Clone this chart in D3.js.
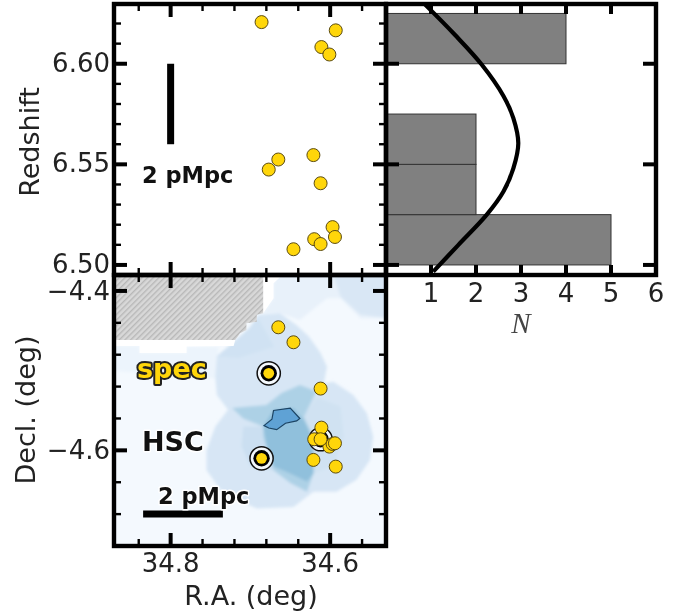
<!DOCTYPE html>
<html>
<head>
<meta charset="utf-8">
<script src="https://d3js.org/d3.v7.min.js"></script>
<style>
  html, body { margin: 0; padding: 0; background: #fff; }
  svg { display: block; filter: blur(0.45px); }
  text { font-family: "DejaVu Sans", sans-serif; fill: #222; }
</style>
</head>
<body>
<div id="chart"></div>
<script>
// galaxies (same order in all three lists)
const galaxyRa = [34.686, 34.593, 34.611, 34.601, 34.621, 34.665, 34.677, 34.612, 34.597, 34.594, 34.620, 34.612, 34.646]
const galaxyZ = [6.6207, 6.6166, 6.6083, 6.6046, 6.5546, 6.5524, 6.5474, 6.5406, 6.5188, 6.5139, 6.5128, 6.5104, 6.5078]
const galaxyDec = [-4.610, -4.6204, -4.5715, -4.5953, -4.612, -4.4456, -4.5033, -4.5225, -4.592, -4.5911, -4.5861, -4.5861, -4.4644]
const specIndex = [0, 6, 11]

// redshift histogram
const binStart = [6.50, 6.525, 6.55, 6.60]
const binEnd = [6.525, 6.55, 6.575, 6.625]
const binCount = [5, 2, 2, 4]

// smooth curve over the histogram
const curveZ = [6.4967, 6.51, 6.525, 6.5365, 6.548, 6.5605, 6.573, 6.584, 6.5995, 6.6144, 6.6294]
const curveN = [1.05, 1.61, 2.24, 2.61, 2.83, 2.94, 2.83, 2.61, 2.13, 1.53, 0.87]

// ticks
const raMajor = [34.8, 34.6]
const raMinor = [34.84, 34.76, 34.72, 34.68, 34.64, 34.56]
const decMajor = [-4.4, -4.6]
const decMinor = [-4.44, -4.48, -4.52, -4.56, -4.64, -4.68]
const zMajor = [6.5, 6.55, 6.6]
const zMinor = [6.51, 6.52, 6.53, 6.54, 6.56, 6.57, 6.58, 6.59, 6.61, 6.62]
const nTicks = [1, 2, 3, 4, 5]
const nLabels = [1, 2, 3, 4, 5, 6]

// density map, darkest last, [ra, dec]
const lightTop = [[34.665,-4.38],[34.525,-4.38],[34.525,-4.4343],[34.562,-4.4343],[34.587,-4.4092],[34.604,-4.4092],[34.638,-4.4364],[34.663,-4.428],[34.684,-4.428],[34.671,-4.4092],[34.671,-4.3904]]
const lightLeft = [[34.875,-4.469],[34.839,-4.469],[34.839,-4.478],[34.78,-4.478],[34.78,-4.4698],[34.74,-4.47],[34.742,-4.51],[34.80,-4.505],[34.875,-4.5]]
const cornerTop = [[34.596,-4.38],[34.587,-4.4071],[34.562,-4.430],[34.525,-4.4343],[34.525,-4.38]]
const mainBlob = [[34.742,-4.482],[34.721,-4.464],[34.702,-4.447],[34.69,-4.430],[34.663,-4.428],[34.642,-4.443],[34.627,-4.457],[34.612,-4.478],[34.604,-4.495],[34.608,-4.516],[34.596,-4.514],[34.571,-4.5305],[34.554,-4.5535],[34.546,-4.583],[34.55,-4.612],[34.567,-4.637],[34.592,-4.652],[34.621,-4.652],[34.646,-4.671],[34.692,-4.673],[34.734,-4.654],[34.755,-4.625],[34.755,-4.6],[34.744,-4.570],[34.728,-4.549],[34.742,-4.5305],[34.744,-4.5075]]
const subUpper = [[34.742,-4.482],[34.721,-4.464],[34.702,-4.447],[34.69,-4.434],[34.67,-4.47],[34.715,-4.484]]
const subLower = [[34.709,-4.570],[34.684,-4.570],[34.671,-4.625],[34.70,-4.62],[34.711,-4.595]]
const subRight = [[34.633,-4.558],[34.617,-4.533],[34.587,-4.545],[34.583,-4.583],[34.596,-4.62],[34.621,-4.629]]
const midBlob = [[34.723,-4.547],[34.68,-4.543],[34.661,-4.528],[34.638,-4.518],[34.617,-4.526],[34.633,-4.558],[34.621,-4.583],[34.621,-4.629],[34.629,-4.652],[34.65,-4.641],[34.671,-4.625],[34.684,-4.583],[34.684,-4.570],[34.709,-4.56]]
const innerBlob = [[34.684,-4.570],[34.671,-4.549],[34.646,-4.547],[34.633,-4.562],[34.621,-4.587],[34.621,-4.629],[34.629,-4.639],[34.65,-4.629],[34.671,-4.62],[34.68,-4.591]]
const peakBlob = [[34.683,-4.569],[34.673,-4.561],[34.671,-4.55],[34.65,-4.547],[34.638,-4.56],[34.642,-4.563],[34.656,-4.566],[34.667,-4.574],[34.677,-4.572]]

// masked part of the field
const maskLeft = [[34.875,-4.4615],[34.719,-4.4615],[34.721,-4.469],[34.78,-4.4698],[34.78,-4.478],[34.839,-4.478],[34.839,-4.469],[34.875,-4.469]]
const maskTop = [[34.684,-4.38],[34.66,-4.38],[34.671,-4.3904],[34.671,-4.4092],[34.684,-4.428]]
const hatchArea = [[34.875,-4.38],[34.684,-4.38],[34.684,-4.428],[34.692,-4.430],[34.692,-4.4385],[34.705,-4.4406],[34.705,-4.449],[34.713,-4.453],[34.719,-4.4615],[34.875,-4.4615]]

const chartWidth = 689, chartHeight = 613
const edgeLeft = 114, edgeMid = 386, edgeRight = 656, edgeTop = 4, edgeJoin = 275, edgeBottom = 546

const x = d3.scaleLinear().domain([34.871, 34.530]).range([edgeLeft, edgeMid])
const yZ = d3.scaleLinear().domain([6.4950, 6.6297]).range([edgeJoin, edgeTop])
const yDec = d3.scaleLinear().domain([-4.72, -4.38]).range([edgeBottom, edgeJoin])
const xN = d3.scaleLinear().domain([0, 6]).range([edgeMid, edgeRight])

const svg = d3.select('#chart').append('svg')
  .attr('width', chartWidth)
  .attr('height', chartHeight)

const defs = svg.append('defs')
function addClip(id, x0, y0, x1, y1) {
  defs.append('clipPath').attr('id', id).append('rect')
    .attr('x', x0).attr('y', y0).attr('width', x1 - x0).attr('height', y1 - y0)
}
addClip('clip-map', edgeLeft, edgeJoin, edgeMid, edgeBottom)
addClip('clip-hist', edgeMid, edgeTop, edgeRight, edgeJoin)

const hatch = defs.append('pattern')
  .attr('id', 'hatch')
  .attr('patternUnits', 'userSpaceOnUse')
  .attr('width', 4).attr('height', 4)
  .attr('patternTransform', 'rotate(-45)')
hatch.append('rect').attr('width', 4).attr('height', 4).attr('fill', '#d8d8d8')
hatch.append('rect').attr('width', 4).attr('height', 1.4).attr('fill', '#b8b8b8')

defs.append('filter').attr('id', 'soft').append('feGaussianBlur').attr('stdDeviation', 1.6)

// density map
const map = svg.append('g').attr('clip-path', 'url(#clip-map)')
map.append('rect').attr('x', edgeLeft).attr('y', edgeJoin).attr('width', edgeMid - edgeLeft).attr('height', edgeBottom - edgeJoin).attr('fill', '#f4f9fe')

const outline = d3.line().x(d => x(d[0])).y(d => yDec(d[1]))
const contours = map.append('g').attr('filter', 'url(#soft)')
const layers = [
  [lightTop, '#e8f1fa'], [lightLeft, '#ecf4fc'], [cornerTop, '#d9e7f5'], [mainBlob, '#d7e6f5'],
  [subUpper, '#d0e2f3'], [subLower, '#cbdff1'], [subRight, '#d0e2f2'],
  [midBlob, '#add1e6'], [innerBlob, '#90c0dc']
]
contours.selectAll('path').data(layers).enter().append('path')
  .attr('d', d => outline(d[0]) + 'Z')
  .attr('fill', d => d[1])

map.append('path').attr('d', outline(maskLeft) + 'Z').attr('fill', '#fff')
map.append('path').attr('d', outline(maskTop) + 'Z').attr('fill', '#fff')
map.append('path').attr('d', outline(hatchArea) + 'Z').attr('fill', 'url(#hatch)')
map.append('path').attr('d', outline(peakBlob) + 'Z')
  .attr('fill', '#5fa2d5').attr('stroke', '#1c4464').attr('stroke-width', 1.2)

// histogram
const hist = svg.append('g').attr('clip-path', 'url(#clip-hist)')
hist.selectAll('rect').data(binCount).enter().append('rect')
  .attr('x', xN(0))
  .attr('y', (d, i) => yZ(binEnd[i]))
  .attr('width', d => xN(d) - xN(0))
  .attr('height', (d, i) => yZ(binStart[i]) - yZ(binEnd[i]))
  .attr('fill', '#808080')
  .attr('stroke', '#333')
  .attr('stroke-width', 1)

const curvePts = curveZ.map((z, i) => [curveN[i], z])
hist.append('path')
  .attr('d', d3.line().x(d => xN(d[0])).y(d => yZ(d[1])).curve(d3.curveCatmullRom)(curvePts))
  .attr('fill', 'none')
  .attr('stroke', '#000')
  .attr('stroke-width', 4.2)

// inward ticks, one call per side
function ticks(axisFn, scale, values, len, lw, tx, ty) {
  const axis = axisFn(scale).tickValues(values).tickSize(-len).tickFormat('').offset(0)
  const g = svg.append('g').attr('transform', 'translate(' + tx + ',' + ty + ')').call(axis)
  g.select('.domain').remove()
  g.selectAll('line').attr('stroke', '#000').attr('stroke-width', lw)
}

const majorLen = 13, minorLen = 7, majorW = 4, minorW = 2.4

;[[yZ, zMajor, zMinor], [yDec, decMajor, decMinor]].forEach(p => {
  ticks(d3.axisLeft, p[0], p[1], majorLen, majorW, edgeLeft, 0)
  ticks(d3.axisLeft, p[0], p[2], minorLen, minorW, edgeLeft, 0)
  ticks(d3.axisRight, p[0], p[1], majorLen, majorW, edgeMid, 0)
  ticks(d3.axisRight, p[0], p[2], minorLen, minorW, edgeMid, 0)
})
;[[edgeTop, d3.axisTop], [edgeJoin, d3.axisBottom], [edgeJoin, d3.axisTop], [edgeBottom, d3.axisBottom]].forEach(p => {
  ticks(p[1], x, raMajor, majorLen, majorW, 0, p[0])
  ticks(p[1], x, raMinor, minorLen, minorW, 0, p[0])
})
ticks(d3.axisTop, xN, nTicks, 10, majorW, 0, edgeTop)
ticks(d3.axisBottom, xN, nTicks, 10, majorW, 0, edgeJoin)
ticks(d3.axisLeft, yZ, zMajor, majorLen, majorW, edgeMid, 0)
ticks(d3.axisRight, yZ, zMajor, majorLen, majorW, edgeRight, 0)

// frames
const frames = [[edgeLeft, edgeTop, edgeMid, edgeJoin], [edgeLeft, edgeJoin, edgeMid, edgeBottom], [edgeMid, edgeTop, edgeRight, edgeJoin]]
svg.selectAll('rect.frame').data(frames).enter().append('rect')
  .attr('class', 'frame')
  .attr('x', d => d[0]).attr('y', d => d[1])
  .attr('width', d => d[2] - d[0]).attr('height', d => d[3] - d[1])
  .attr('fill', 'none')
  .attr('stroke', '#000')
  .attr('stroke-width', 4.4)

// scale bars
svg.append('line')
  .attr('x1', x(34.8)).attr('x2', x(34.8))
  .attr('y1', yZ(6.6)).attr('y2', yZ(6.56))
  .attr('stroke', '#000').attr('stroke-width', 7)
svg.append('line')
  .attr('x1', x(34.8345)).attr('x2', x(34.7345))
  .attr('y1', yDec(-4.68)).attr('y2', yDec(-4.68))
  .attr('stroke', '#000').attr('stroke-width', 7)

// galaxies
const pointFill = '#ffd60a', pointEdge = '#5a4a10'
svg.append('g').selectAll('circle').data(galaxyRa).enter().append('circle')
  .attr('cx', d => x(d))
  .attr('cy', (d, i) => yZ(galaxyZ[i]))
  .attr('r', 6.5)
  .attr('fill', pointFill).attr('stroke', pointEdge).attr('stroke-width', 1)

const spec = svg.append('g')
spec.selectAll('circle.ring').data(specIndex).enter().append('circle')
  .attr('class', 'ring')
  .attr('cx', i => x(galaxyRa[i])).attr('cy', i => yDec(galaxyDec[i]))
  .attr('r', 11.6)
  .attr('fill', '#fff').attr('fill-opacity', 0.75).attr('stroke', '#111').attr('stroke-width', 1.5)
spec.selectAll('circle.core').data(specIndex).enter().append('circle')
  .attr('class', 'core')
  .attr('cx', i => x(galaxyRa[i])).attr('cy', i => yDec(galaxyDec[i]))
  .attr('r', 8.2)
  .attr('fill', '#000')

svg.append('g').selectAll('circle').data(galaxyRa).enter().append('circle')
  .attr('cx', d => x(d))
  .attr('cy', (d, i) => yDec(galaxyDec[i]))
  .attr('r', (d, i) => (i === 0 || i === 6) ? 5.4 : 6.5)
  .attr('fill', pointFill)
  .attr('stroke', (d, i) => (i === 0 || i === 6) ? 'none' : pointEdge)
  .attr('stroke-width', 1)

// tick labels
const labelSize = 26
function tickLabels(values, fmt, px, py, anchor) {
  svg.append('g').selectAll('text').data(values).enter().append('text')
    .attr('x', px).attr('y', py)
    .attr('text-anchor', anchor)
    .attr('font-size', labelSize)
    .text(fmt)
}
tickLabels(zMajor, d3.format('.2f'), 110, d => yZ(d) + 8, 'end')
tickLabels(decMajor, d => '\u2212' + Math.abs(d).toFixed(1), 110, d => yDec(d) + 9, 'end')
tickLabels(raMajor, d3.format('.1f'), d => x(d), 572, 'middle')
tickLabels(nLabels, d3.format('d'), d => xN(d), 302, 'middle')

// axis titles
svg.append('text').attr('transform', 'translate(39,142) rotate(-90)')
  .attr('text-anchor', 'middle').attr('font-size', 27).text('Redshift')
svg.append('text').attr('transform', 'translate(35,410) rotate(-90)')
  .attr('text-anchor', 'middle').attr('font-size', 27).text('Decl. (deg)')
svg.append('text').attr('x', 251).attr('y', 605)
  .attr('text-anchor', 'middle').attr('font-size', 27).text('R.A. (deg)')
svg.append('text').attr('x', 521).attr('y', 333)
  .attr('text-anchor', 'middle').attr('font-size', 29)
  .style('font-family', '"Liberation Serif", serif').style('font-style', 'italic').style('fill', '#444').text('N')

// annotations
function note(txt, px, py, size, fill, halo, haloW) {
  const t = svg.append('text').attr('x', px).attr('y', py)
    .attr('font-size', size).attr('font-weight', 'bold').text(txt)
    .style('fill', fill)
  if (halo) {
    t.attr('stroke', halo).attr('stroke-width', haloW).attr('paint-order', 'stroke').attr('stroke-linejoin', 'round')
  }
}
note('2 pMpc', 142, 183, 22.5, '#111')
note('2 pMpc', 158, 504, 22.5, '#111', '#fff', 3)
note('HSC', 142, 451, 27, '#111', '#fff', 3)
note('spec', 137, 378, 27, '#ffd60a', '#222', 4)
</script>
</body>
</html>
